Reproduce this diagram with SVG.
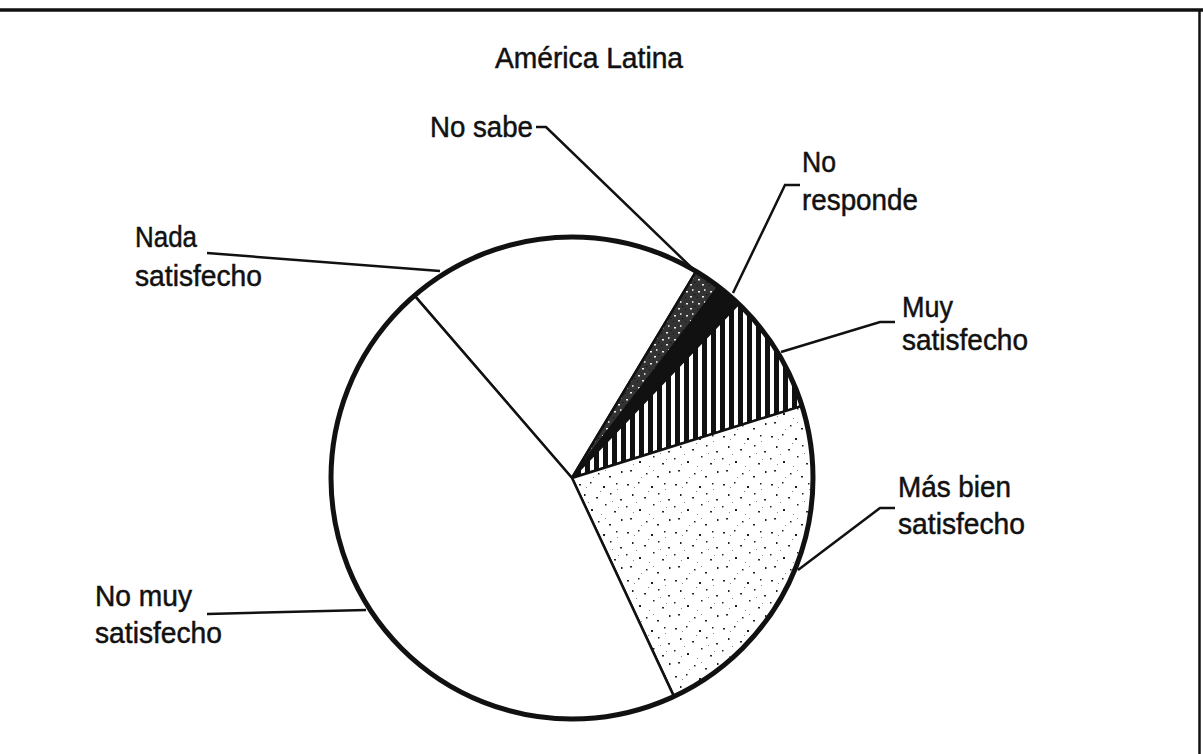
<svg xmlns="http://www.w3.org/2000/svg" width="1203" height="754" viewBox="0 0 1203 754">
<defs>
<style>
.lbl{font-family:"Liberation Sans",Arial,sans-serif;font-size:30px;fill:#111;stroke:#111;stroke-width:0.5;}
.lead{fill:none;stroke:#111;stroke-width:2.5;stroke-linejoin:miter;}
.sl{stroke:#111;stroke-width:2.5;stroke-linejoin:round;}
</style>
<pattern id="stripes" width="9" height="9" patternUnits="userSpaceOnUse">
<rect width="9" height="9" fill="#fff"/>
<rect x="0" y="0" width="5" height="9" fill="#111"/>
</pattern>
<pattern id="dark" width="12" height="12" patternUnits="userSpaceOnUse">
<rect width="12" height="12" fill="#333"/>
<rect x="2" y="3" width="2" height="1.5" fill="#eee"/>
<rect x="8" y="1" width="1.5" height="2" fill="#ccc"/>
<rect x="6" y="8" width="2" height="1.5" fill="#eee"/>
<rect x="1" y="9" width="1" height="1" fill="#111"/>
<rect x="10" y="6" width="1.5" height="1" fill="#111"/>
</pattern>
<pattern id="light" width="48" height="48" patternUnits="userSpaceOnUse">
<rect width="48" height="48" fill="#fff"/>
<g fill="#222">
<rect x="3" y="4" width="2" height="1.5"/>
<rect x="14" y="2" width="1.5" height="1.5"/>
<rect x="27" y="6" width="2" height="2"/>
<rect x="40" y="3" width="1.5" height="1.5"/>
<rect x="8" y="14" width="1.5" height="2"/>
<rect x="20" y="17" width="2" height="1.5"/>
<rect x="34" y="13" width="1.5" height="1.5"/>
<rect x="44" y="19" width="2" height="1.5"/>
<rect x="2" y="26" width="1.5" height="1.5"/>
<rect x="15" y="29" width="2" height="2"/>
<rect x="29" y="24" width="1.5" height="1.5"/>
<rect x="38" y="31" width="2" height="1.5"/>
<rect x="6" y="38" width="2" height="1.5"/>
<rect x="22" y="41" width="1.5" height="1.5"/>
<rect x="33" y="44" width="2" height="1.5"/>
<rect x="45" y="39" width="1.5" height="2"/>
</g>
<g fill="#888">
<rect x="10" y="7" width="1" height="1"/>
<rect x="24" y="11" width="1" height="1"/>
<rect x="41" y="9" width="1" height="1"/>
<rect x="12" y="22" width="1" height="1"/>
<rect x="36" y="21" width="1" height="1"/>
<rect x="25" y="34" width="1" height="1"/>
<rect x="9" y="32" width="1" height="1"/>
<rect x="42" y="27" width="1" height="1"/>
<rect x="17" y="45" width="1" height="1"/>
<rect x="29" y="38" width="1" height="1"/>
</g>
</pattern>
</defs>
<rect width="1203" height="754" fill="#fff"/>
<g id="frame">
<line x1="0" y1="10" x2="1203" y2="10" stroke="#111" stroke-width="3.5"/>
<line x1="1199.5" y1="9" x2="1199.5" y2="754" stroke="#111" stroke-width="2.5"/>
</g>
<g id="title">
<text class="lbl" x="495" y="68" textLength="188" lengthAdjust="spacingAndGlyphs">América Latina</text>
</g>
<g id="pie">
<g id="slice-nada"><path class="sl" fill="#fff" d="M572,478 L414.5,295.6 A241,241 0 0 1 696.1,271.4 Z"/></g>
<g id="slice-nosabe"><path class="sl" fill="url(#dark)" d="M572,478 L696.1,271.4 A241,241 0 0 1 718.7,286.8 Z"/></g>
<g id="slice-noresponde"><path class="sl" fill="#111" d="M572,478 L718.7,286.8 A241,241 0 0 1 738.5,303.8 Z"/></g>
<g id="slice-muy"><path class="sl" fill="url(#stripes)" d="M572,478 L738.5,303.8 A241,241 0 0 1 802,405.9 Z"/></g>
<g id="slice-masbien"><path class="sl" fill="url(#light)" d="M572,478 L802,405.9 A241,241 0 0 1 673.9,696.4 Z"/></g>
<g id="slice-nomuy"><path class="sl" fill="#fff" d="M572,478 L673.9,696.4 A241,241 0 0 1 414.5,295.6 Z"/></g>
<circle cx="572" cy="478" r="241" fill="none" stroke="#111" stroke-width="5"/>
</g>
<g id="connectors">
<polyline class="lead" points="207,253 440,271"/>
<polyline class="lead" points="207,614 366,610"/>
<polyline class="lead" points="895,508 880,508 798,570"/>
<polyline class="lead" points="895,322 880,322 781,352"/>
<polyline class="lead" points="800,185 785,185 733,293"/>
<polyline class="lead" points="536,127 546,127 695,271"/>
</g>
<g id="label-nada">
<text class="lbl" x="135" y="247" textLength="62" lengthAdjust="spacingAndGlyphs">Nada</text>
<text class="lbl" x="135" y="286" textLength="127" lengthAdjust="spacingAndGlyphs">satisfecho</text>
</g>
<g id="label-nomuy">
<text class="lbl" x="95" y="606" textLength="97" lengthAdjust="spacingAndGlyphs">No muy</text>
<text class="lbl" x="95" y="643" textLength="127" lengthAdjust="spacingAndGlyphs">satisfecho</text>
</g>
<g id="label-masbien">
<text class="lbl" x="898" y="497" textLength="113" lengthAdjust="spacingAndGlyphs">Más bien</text>
<text class="lbl" x="898" y="534" textLength="127" lengthAdjust="spacingAndGlyphs">satisfecho</text>
</g>
<g id="label-muy">
<text class="lbl" x="902" y="317" textLength="51" lengthAdjust="spacingAndGlyphs">Muy</text>
<text class="lbl" x="902" y="350" textLength="126" lengthAdjust="spacingAndGlyphs">satisfecho</text>
</g>
<g id="label-noresponde">
<text class="lbl" x="802" y="172" textLength="34" lengthAdjust="spacingAndGlyphs">No</text>
<text class="lbl" x="802" y="210" textLength="116" lengthAdjust="spacingAndGlyphs">responde</text>
</g>
<g id="label-nosabe">
<text class="lbl" x="430" y="137" textLength="103" lengthAdjust="spacingAndGlyphs">No sabe</text>
</g>
</svg>
